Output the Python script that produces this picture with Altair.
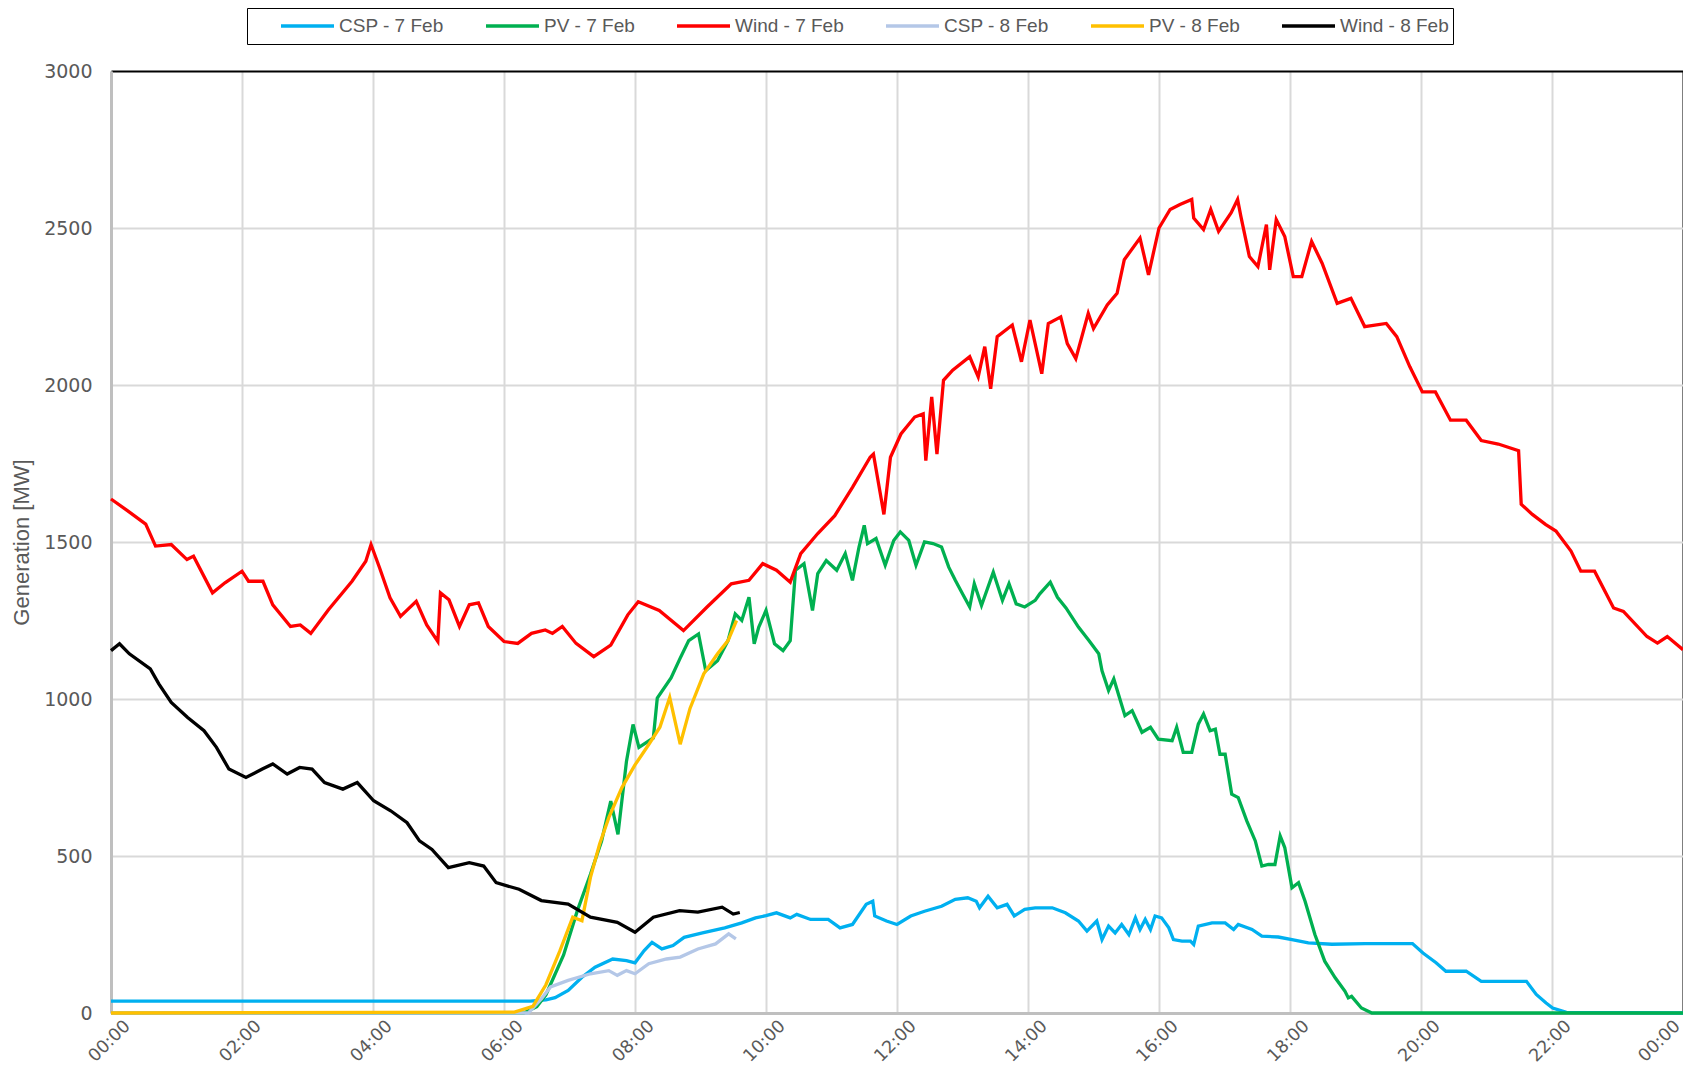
import altair as alt
import pandas as pd

SERIES = ["CSP - 7 Feb", "PV - 7 Feb", "Wind - 7 Feb", "CSP - 8 Feb", "PV - 8 Feb", "Wind - 8 Feb"]
COLORS = ["#00B0F0", "#00B050", "#FF0000", "#B4C7E7", "#FFC000", "#000000"]

# (hour of day, MW)
CSP_7 = [(0, 38), (6.4, 38), (6.64, 42), (6.78, 49), (6.98, 72), (7.19, 114), (7.39, 146), (7.66, 172),
         (7.87, 167), (8.0, 160), (8.14, 199), (8.26, 225), (8.41, 204), (8.58, 215), (8.75, 241),
         (9.03, 255), (9.37, 271), (9.63, 287), (9.84, 303), (10.0, 310), (10.16, 319), (10.37, 303),
         (10.47, 314), (10.68, 298), (10.95, 298), (11.13, 271), (11.32, 282), (11.53, 346), (11.63, 356),
         (11.66, 309), (11.84, 293), (12.0, 282), (12.21, 309), (12.42, 324), (12.68, 340), (12.89, 362),
         (13.08, 367), (13.21, 356), (13.26, 335), (13.39, 372), (13.53, 335), (13.68, 346), (13.79, 309),
         (13.95, 330), (14.11, 335), (14.37, 335), (14.57, 319), (14.77, 293), (14.9, 261), (15.05, 293),
         (15.13, 234), (15.23, 277), (15.33, 255), (15.43, 282), (15.54, 250), (15.64, 303), (15.71, 266),
         (15.79, 298), (15.87, 266), (15.94, 309), (16.04, 303), (16.15, 271), (16.22, 234), (16.35, 229),
         (16.48, 229), (16.53, 218), (16.6, 277), (16.81, 287), (17.01, 287), (17.14, 266), (17.21, 282),
         (17.42, 266), (17.57, 245), (17.82, 242), (18.03, 234), (18.28, 223), (18.64, 219), (19.15, 221),
         (19.87, 221), (20.03, 191), (20.23, 160), (20.38, 133), (20.69, 133), (20.92, 101), (21.61, 101),
         (21.76, 59), (21.91, 32), (22.01, 16), (22.22, 2), (24.0, 0)]

PV_7 = [(0, 0), (6.3, 0), (6.5, 20), (6.64, 58), (6.91, 185), (7.12, 326), (7.32, 442), (7.49, 548),
        (7.63, 675), (7.74, 569), (7.87, 802), (7.97, 919), (8.06, 846), (8.28, 876), (8.34, 1003),
        (8.55, 1067), (8.69, 1130), (8.82, 1186), (8.97, 1207), (9.08, 1090), (9.26, 1122), (9.42, 1186),
        (9.53, 1271), (9.63, 1250), (9.74, 1324), (9.82, 1176), (9.89, 1229), (10.0, 1282), (10.13, 1176),
        (10.26, 1154), (10.37, 1186), (10.45, 1410), (10.58, 1431), (10.71, 1282), (10.79, 1399),
        (10.92, 1441), (11.08, 1410), (11.21, 1463), (11.32, 1378), (11.42, 1484), (11.5, 1553),
        (11.55, 1495), (11.68, 1511), (11.82, 1426), (11.95, 1505), (12.05, 1532), (12.18, 1505),
        (12.29, 1426), (12.42, 1500), (12.55, 1495), (12.68, 1484), (12.79, 1420), (12.89, 1378),
        (13.0, 1335), (13.11, 1293), (13.18, 1367), (13.29, 1298), (13.47, 1404), (13.61, 1314),
        (13.71, 1367), (13.82, 1303), (13.95, 1293), (14.11, 1314), (14.18, 1335), (14.34, 1372),
        (14.45, 1324), (14.58, 1290), (14.77, 1229), (14.93, 1186), (15.08, 1144), (15.13, 1090),
        (15.23, 1027), (15.31, 1064), (15.48, 947), (15.59, 963), (15.74, 894), (15.87, 910), (15.99, 872),
        (16.2, 867), (16.27, 910), (16.37, 830), (16.5, 830), (16.6, 920), (16.68, 952), (16.78, 899),
        (16.86, 904), (16.93, 824), (17.01, 824), (17.11, 697), (17.21, 686), (17.34, 612), (17.47, 548),
        (17.57, 468), (17.67, 473), (17.77, 473), (17.85, 564), (17.92, 527), (18.03, 399), (18.13, 415),
        (18.23, 356), (18.38, 250), (18.53, 165), (18.69, 112), (18.84, 69), (18.89, 48), (18.94, 53),
        (19.09, 16), (19.25, 0), (24.0, 0)]

WIND_7 = [(0, 1637), (0.25, 1600), (0.53, 1557), (0.68, 1487), (0.92, 1492), (1.16, 1444), (1.26, 1455),
          (1.55, 1338), (1.74, 1370), (2.0, 1407), (2.1, 1375), (2.32, 1375), (2.47, 1300), (2.74, 1231),
          (2.89, 1236), (3.05, 1209), (3.32, 1284), (3.68, 1375), (3.89, 1439), (3.97, 1492), (4.1, 1418),
          (4.26, 1322), (4.42, 1263), (4.66, 1311), (4.82, 1236), (4.99, 1183), (5.03, 1338), (5.16, 1316),
          (5.32, 1231), (5.47, 1300), (5.61, 1306), (5.76, 1231), (6.0, 1183), (6.21, 1177), (6.42, 1209),
          (6.63, 1220), (6.74, 1209), (6.89, 1231), (7.1, 1177), (7.37, 1135), (7.63, 1172), (7.89, 1268),
          (8.05, 1310), (8.37, 1282), (8.74, 1218), (9.1, 1293), (9.47, 1367), (9.74, 1378), (9.95, 1431),
          (10.16, 1410), (10.37, 1372), (10.53, 1463), (10.79, 1527), (11.05, 1584), (11.32, 1674),
          (11.59, 1770), (11.64, 1780), (11.8, 1588), (11.9, 1770), (12.06, 1844), (12.27, 1898),
          (12.4, 1908), (12.44, 1759), (12.53, 1962), (12.61, 1780), (12.71, 2015), (12.85, 2047),
          (13.11, 2090), (13.24, 2026), (13.34, 2122), (13.43, 1988), (13.53, 2154), (13.76, 2191),
          (13.9, 2074), (14.03, 2207), (14.21, 2036), (14.31, 2196), (14.5, 2217), (14.6, 2132),
          (14.73, 2084), (14.92, 2228), (15.0, 2180), (15.21, 2255), (15.36, 2292), (15.47, 2399),
          (15.71, 2468), (15.84, 2351), (16.0, 2500), (16.17, 2559), (16.32, 2575), (16.5, 2591),
          (16.53, 2532), (16.68, 2495), (16.79, 2559), (16.91, 2489), (17.1, 2548), (17.2, 2591),
          (17.25, 2537), (17.38, 2409), (17.51, 2377), (17.64, 2511), (17.69, 2367), (17.79, 2527),
          (17.92, 2473), (18.05, 2345), (18.18, 2345), (18.33, 2457), (18.49, 2388), (18.72, 2260),
          (18.93, 2276), (19.14, 2186), (19.47, 2196), (19.63, 2154), (19.83, 2058), (20.02, 1978),
          (20.22, 1978), (20.45, 1888), (20.69, 1888), (20.92, 1823), (21.18, 1812), (21.49, 1791),
          (21.53, 1620), (21.7, 1588), (21.9, 1556), (22.06, 1535), (22.29, 1471), (22.44, 1407),
          (22.65, 1407), (22.94, 1290), (23.09, 1279), (23.45, 1199), (23.61, 1178), (23.76, 1199),
          (24.0, 1157)]

CSP_8 = [(0, 0), (6.37, 0), (6.57, 45), (6.71, 83), (6.98, 104), (7.32, 125), (7.6, 135), (7.73, 120),
         (7.87, 135), (8.0, 125), (8.21, 157), (8.48, 172), (8.69, 178), (8.96, 204), (9.23, 220),
         (9.43, 252), (9.54, 236)]

PV_8 = [(0, 0), (6.16, 3), (6.44, 21), (6.64, 90), (6.85, 196), (7.05, 305), (7.19, 294), (7.32, 432),
        (7.46, 538), (7.6, 622), (7.8, 718), (8.0, 790), (8.21, 855), (8.38, 910), (8.53, 1005),
        (8.69, 856), (8.84, 970), (9.05, 1080), (9.26, 1144), (9.42, 1186), (9.55, 1250)]

WIND_8 = [(0, 1154), (0.13, 1176), (0.28, 1144), (0.6, 1096), (0.73, 1048), (0.92, 989), (1.17, 941),
          (1.42, 899), (1.61, 846), (1.8, 777), (2.06, 750), (2.31, 777), (2.47, 793), (2.69, 761),
          (2.88, 782), (3.07, 777), (3.26, 734), (3.54, 713), (3.76, 734), (4.01, 676), (4.27, 644),
          (4.52, 606), (4.71, 548), (4.9, 521), (5.15, 463), (5.47, 479), (5.69, 468), (5.88, 415),
          (6.23, 394), (6.57, 358), (6.98, 347), (7.32, 305), (7.73, 289), (8.0, 257), (8.28, 305),
          (8.68, 326), (8.96, 321), (9.33, 337), (9.5, 315), (9.6, 320)]

X_TICKS = list(range(0, 25, 2))
Y_TICKS = list(range(0, 3001, 500))

DATA = [CSP_7, PV_7, WIND_7, CSP_8, PV_8, WIND_8]
frames = []
for name, pts in zip(SERIES, DATA):
    frames.append(pd.DataFrame({"series": name,
                                "hour": [p[0] for p in pts],
                                "mw": [p[1] for p in pts]}))
df = pd.concat(frames, ignore_index=True)

GRAY = "#595959"
SANS = "Liberation Sans"
WIDE = "DejaVu Sans"

x_enc = alt.X(
    "hour:Q",
    scale=alt.Scale(domain=[0, 24], nice=False, zero=False),
    axis=alt.Axis(
        values=X_TICKS, title=None,
        labelExpr="(datum.value % 24 < 10 ? '0' : '') + (datum.value % 24) + ':00'",
        labelAngle=315, labelAlign="right", labelBaseline="middle",
        labelFont=WIDE, labelFontSize=17.5, labelColor=GRAY,
        labelPadding=10,
        labelOffset=alt.condition(alt.datum.value == 24, alt.value(-6), alt.value(16)),
        labelOverlap=False, labelFlush=False, labelBound=False,
        ticks=False, tickSize=0,
        grid=True,
        gridColor=alt.condition(alt.datum.value == 24, alt.value("#000000"), alt.value("#d9d9d9")),
        gridWidth=2, domainColor="#bfbfbf", domainWidth=3,
    ),
)

y_enc = alt.Y(
    "mw:Q",
    scale=alt.Scale(domain=[0, 3000], nice=False),
    axis=alt.Axis(
        values=Y_TICKS, format="d", title="Generation [MW]",
        titleFont=SANS, titleFontSize=22, titleFontWeight="normal", titleColor=GRAY,
        titleX=-90, titleY=471, titleAngle=270, titleAlign="center", titleBaseline="middle",
        labelFont=WIDE, labelFontSize=19, labelColor=GRAY, labelPadding=19,
        ticks=False, tickSize=0,
        grid=True,
        gridColor=alt.condition(alt.datum.value == 3000, alt.value("#000000"), alt.value("#d9d9d9")),
        gridWidth=2, domainColor="#bfbfbf", domainWidth=3,
    ),
)

color_enc = alt.Color(
    "series:N",
    scale=alt.Scale(domain=SERIES, range=COLORS),
    legend=alt.Legend(
        title=None, orient="none", legendX=136, legendY=-63, direction="horizontal",
        symbolType="stroke", symbolSize=2809, symbolStrokeWidth=3.5,
        symbolOffset=28, labelOffset=3, columnPadding=12,
        labelFont=SANS, labelFontSize=19, labelColor=GRAY, labelLimit=300,
        padding=4, strokeColor="#000000", fillColor="#ffffff", clipHeight=28,
    ),
)

base = alt.Chart(df).mark_line(strokeWidth=3.3).encode(x=x_enc, y=y_enc, color=color_enc)
layers = [base.transform_filter(alt.datum.series == s) for s in SERIES]

chart = alt.layer(*layers).properties(
    width=1572, height=942,
    padding={"left": 103, "top": 63, "right": 0, "bottom": 55},
    autosize=alt.AutoSizeParams(type="none"),
).configure_view(stroke=None)

chart.save("out.html", embed_options={"renderer": "svg", "actions": False})
